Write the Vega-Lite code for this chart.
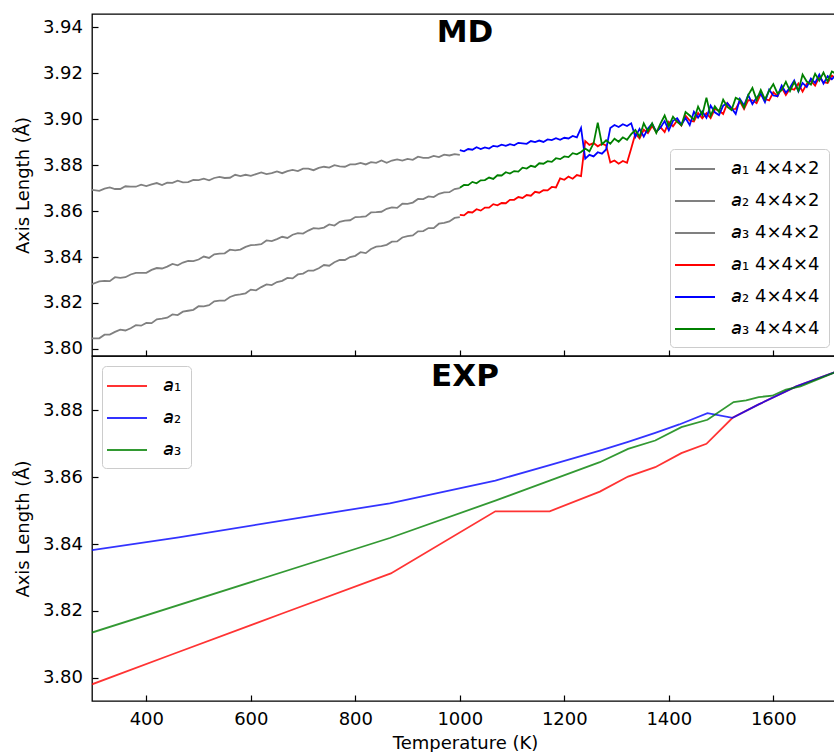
{
"$schema": "https://vega.github.io/schema/vega-lite/v6.json",
"background": "white",
"padding": {"left": 13, "top": 13, "right": 0, "bottom": 0},
"bounds": "flush",
"spacing": 0,
"config": {
  "font": "DejaVu Sans",
  "view": {"stroke": "black", "strokeWidth": 1.3},
  "axis": {"domain": false, "grid": false, "ticks": true, "tickSize": -6, "tickWidth": 1.2, "tickColor": "black", "labelPadding": 15.5, "labelFont": "DejaVu Sans", "labelFontSize": 18, "labelColor": "black", "titleFont": "DejaVu Sans", "titleFontSize": 18, "titleColor": "black", "titleFontWeight": "normal", "titlePadding": 10},
  "axisX": {"titlePadding": 6},
  "legend": {"labelFont": "DejaVu Sans", "labelFontSize": 18, "labelColor": "black", "strokeColor": "#cccccc", "fillColor": "white", "cornerRadius": 4, "padding": 9, "symbolType": "M-2,0H2", "symbolSize": 400, "symbolStrokeWidth": 2, "symbolOffset": 5, "labelOffset": 25, "rowPadding": 12}
},
"datasets": {
"g1": [{"t":296,"v":3.8046},{"t":310,"v":3.8046},{"t":320,"v":3.8062},{"t":330,"v":3.8062},{"t":340,"v":3.8074},{"t":350,"v":3.8084},{"t":360,"v":3.8080},{"t":370,"v":3.8090},{"t":380,"v":3.8103},{"t":390,"v":3.8101},{"t":400,"v":3.8113},{"t":410,"v":3.8112},{"t":420,"v":3.8129},{"t":430,"v":3.8132},{"t":440,"v":3.8136},{"t":450,"v":3.8150},{"t":460,"v":3.8147},{"t":470,"v":3.8162},{"t":480,"v":3.8166},{"t":490,"v":3.8170},{"t":500,"v":3.8186},{"t":510,"v":3.8185},{"t":520,"v":3.8190},{"t":530,"v":3.8207},{"t":540,"v":3.8210},{"t":550,"v":3.8210},{"t":560,"v":3.8226},{"t":570,"v":3.8234},{"t":580,"v":3.8237},{"t":590,"v":3.8242},{"t":600,"v":3.8258},{"t":610,"v":3.8255},{"t":620,"v":3.8269},{"t":630,"v":3.8281},{"t":640,"v":3.8278},{"t":650,"v":3.8291},{"t":660,"v":3.8296},{"t":670,"v":3.8309},{"t":680,"v":3.8307},{"t":690,"v":3.8324},{"t":700,"v":3.8328},{"t":710,"v":3.8341},{"t":720,"v":3.8341},{"t":730,"v":3.8351},{"t":740,"v":3.8365},{"t":750,"v":3.8362},{"t":760,"v":3.8377},{"t":770,"v":3.8387},{"t":780,"v":3.8387},{"t":790,"v":3.8400},{"t":800,"v":3.8405},{"t":810,"v":3.8421},{"t":820,"v":3.8417},{"t":830,"v":3.8435},{"t":840,"v":3.8445},{"t":850,"v":3.8447},{"t":860,"v":3.8453},{"t":870,"v":3.8467},{"t":880,"v":3.8468},{"t":890,"v":3.8485},{"t":900,"v":3.8491},{"t":910,"v":3.8494},{"t":920,"v":3.8512},{"t":930,"v":3.8513},{"t":940,"v":3.8526},{"t":950,"v":3.8526},{"t":960,"v":3.8545},{"t":970,"v":3.8549},{"t":980,"v":3.8555},{"t":990,"v":3.8570},{"t":1000,"v":3.8574}],
"g2": [{"t":296,"v":3.8692},{"t":310,"v":3.8688},{"t":320,"v":3.8698},{"t":330,"v":3.8703},{"t":340,"v":3.8696},{"t":350,"v":3.8696},{"t":360,"v":3.8708},{"t":370,"v":3.8706},{"t":380,"v":3.8706},{"t":390,"v":3.8715},{"t":400,"v":3.8709},{"t":410,"v":3.8716},{"t":420,"v":3.8722},{"t":430,"v":3.8713},{"t":440,"v":3.8724},{"t":450,"v":3.8723},{"t":460,"v":3.8732},{"t":470,"v":3.8725},{"t":480,"v":3.8726},{"t":490,"v":3.8736},{"t":500,"v":3.8735},{"t":510,"v":3.8741},{"t":520,"v":3.8734},{"t":530,"v":3.8744},{"t":540,"v":3.8749},{"t":550,"v":3.8744},{"t":560,"v":3.8745},{"t":570,"v":3.8758},{"t":580,"v":3.8752},{"t":590,"v":3.8758},{"t":600,"v":3.8753},{"t":610,"v":3.8761},{"t":620,"v":3.8768},{"t":630,"v":3.8761},{"t":640,"v":3.8765},{"t":650,"v":3.8773},{"t":660,"v":3.8765},{"t":670,"v":3.8774},{"t":680,"v":3.8779},{"t":690,"v":3.8774},{"t":700,"v":3.8785},{"t":710,"v":3.8785},{"t":720,"v":3.8778},{"t":730,"v":3.8788},{"t":740,"v":3.8793},{"t":750,"v":3.8789},{"t":760,"v":3.8800},{"t":770,"v":3.8795},{"t":780,"v":3.8793},{"t":790,"v":3.8803},{"t":800,"v":3.8803},{"t":810,"v":3.8810},{"t":820,"v":3.8803},{"t":830,"v":3.8813},{"t":840,"v":3.8810},{"t":850,"v":3.8820},{"t":860,"v":3.8810},{"t":870,"v":3.8820},{"t":880,"v":3.8825},{"t":890,"v":3.8820},{"t":900,"v":3.8827},{"t":910,"v":3.8823},{"t":920,"v":3.8837},{"t":930,"v":3.8832},{"t":940,"v":3.8832},{"t":950,"v":3.8840},{"t":960,"v":3.8835},{"t":970,"v":3.8846},{"t":980,"v":3.8842},{"t":990,"v":3.8848},{"t":1000,"v":3.8845}],
"g3": [{"t":296,"v":3.8282},{"t":310,"v":3.8294},{"t":320,"v":3.8296},{"t":330,"v":3.8295},{"t":340,"v":3.8312},{"t":350,"v":3.8309},{"t":360,"v":3.8312},{"t":370,"v":3.8324},{"t":380,"v":3.8331},{"t":390,"v":3.8331},{"t":400,"v":3.8331},{"t":410,"v":3.8344},{"t":420,"v":3.8352},{"t":430,"v":3.8350},{"t":440,"v":3.8358},{"t":450,"v":3.8370},{"t":460,"v":3.8364},{"t":470,"v":3.8376},{"t":480,"v":3.8383},{"t":490,"v":3.8382},{"t":500,"v":3.8389},{"t":510,"v":3.8402},{"t":520,"v":3.8396},{"t":530,"v":3.8412},{"t":540,"v":3.8415},{"t":550,"v":3.8416},{"t":560,"v":3.8432},{"t":570,"v":3.8429},{"t":580,"v":3.8432},{"t":590,"v":3.8444},{"t":600,"v":3.8452},{"t":610,"v":3.8453},{"t":620,"v":3.8456},{"t":630,"v":3.8472},{"t":640,"v":3.8469},{"t":650,"v":3.8478},{"t":660,"v":3.8488},{"t":670,"v":3.8483},{"t":680,"v":3.8497},{"t":690,"v":3.8504},{"t":700,"v":3.8502},{"t":710,"v":3.8515},{"t":720,"v":3.8526},{"t":730,"v":3.8524},{"t":740,"v":3.8528},{"t":750,"v":3.8542},{"t":760,"v":3.8537},{"t":770,"v":3.8553},{"t":780,"v":3.8558},{"t":790,"v":3.8560},{"t":800,"v":3.8574},{"t":810,"v":3.8575},{"t":820,"v":3.8577},{"t":830,"v":3.8594},{"t":840,"v":3.8595},{"t":850,"v":3.8597},{"t":860,"v":3.8610},{"t":870,"v":3.8616},{"t":880,"v":3.8614},{"t":890,"v":3.8632},{"t":900,"v":3.8631},{"t":910,"v":3.8637},{"t":920,"v":3.8653},{"t":930,"v":3.8652},{"t":940,"v":3.8664},{"t":950,"v":3.8661},{"t":960,"v":3.8675},{"t":970,"v":3.8681},{"t":980,"v":3.8682},{"t":990,"v":3.8696},{"t":1000,"v":3.8700}],
"r": [{"t":1000,"v":3.8583},{"t":1008,"v":3.8581},{"t":1016,"v":3.8596},{"t":1024,"v":3.8594},{"t":1032,"v":3.8608},{"t":1040,"v":3.8602},{"t":1048,"v":3.8615},{"t":1056,"v":3.8615},{"t":1064,"v":3.8630},{"t":1072,"v":3.8625},{"t":1080,"v":3.8635},{"t":1088,"v":3.8634},{"t":1096,"v":3.8649},{"t":1104,"v":3.8649},{"t":1112,"v":3.8661},{"t":1120,"v":3.8657},{"t":1128,"v":3.8670},{"t":1136,"v":3.8667},{"t":1144,"v":3.8684},{"t":1152,"v":3.8680},{"t":1160,"v":3.8691},{"t":1168,"v":3.8690},{"t":1176,"v":3.8705},{"t":1184,"v":3.8703},{"t":1192,"v":3.8742},{"t":1200,"v":3.8736},{"t":1208,"v":3.8750},{"t":1216,"v":3.8741},{"t":1224,"v":3.8757},{"t":1232,"v":3.8752},{"t":1240,"v":3.8905},{"t":1248,"v":3.8888},{"t":1256,"v":3.8896},{"t":1264,"v":3.8882},{"t":1272,"v":3.8893},{"t":1280,"v":3.8886},{"t":1288,"v":3.8812},{"t":1296,"v":3.8820},{"t":1304,"v":3.8806},{"t":1312,"v":3.8818},{"t":1320,"v":3.8810},{"t":1328,"v":3.8872},{"t":1336,"v":3.8937},{"t":1344,"v":3.8916},{"t":1352,"v":3.8954},{"t":1360,"v":3.8939},{"t":1368,"v":3.8970},{"t":1376,"v":3.8944},{"t":1384,"v":3.8965},{"t":1392,"v":3.8944},{"t":1400,"v":3.8988},{"t":1408,"v":3.8969},{"t":1416,"v":3.8994},{"t":1424,"v":3.8972},{"t":1432,"v":3.9015},{"t":1440,"v":3.8994},{"t":1448,"v":3.8990},{"t":1456,"v":3.9027},{"t":1464,"v":3.9004},{"t":1472,"v":3.9026},{"t":1480,"v":3.9005},{"t":1488,"v":3.9044},{"t":1496,"v":3.9038},{"t":1504,"v":3.9023},{"t":1512,"v":3.9070},{"t":1520,"v":3.9044},{"t":1528,"v":3.9045},{"t":1536,"v":3.9078},{"t":1544,"v":3.9044},{"t":1552,"v":3.9083},{"t":1560,"v":3.9082},{"t":1568,"v":3.9070},{"t":1576,"v":3.9109},{"t":1584,"v":3.9088},{"t":1592,"v":3.9082},{"t":1600,"v":3.9117},{"t":1608,"v":3.9100},{"t":1616,"v":3.9138},{"t":1624,"v":3.9105},{"t":1632,"v":3.9134},{"t":1640,"v":3.9128},{"t":1648,"v":3.9155},{"t":1656,"v":3.9120},{"t":1664,"v":3.9154},{"t":1672,"v":3.9167},{"t":1680,"v":3.9146},{"t":1688,"v":3.9184},{"t":1696,"v":3.9161},{"t":1704,"v":3.9158},{"t":1712,"v":3.9190},{"t":1720,"v":3.9178}],
"b": [{"t":1000,"v":3.8865},{"t":1008,"v":3.8860},{"t":1016,"v":3.8870},{"t":1024,"v":3.8867},{"t":1032,"v":3.8878},{"t":1040,"v":3.8870},{"t":1048,"v":3.8877},{"t":1056,"v":3.8872},{"t":1064,"v":3.8884},{"t":1072,"v":3.8881},{"t":1080,"v":3.8889},{"t":1088,"v":3.8884},{"t":1096,"v":3.8891},{"t":1104,"v":3.8886},{"t":1112,"v":3.8897},{"t":1120,"v":3.8895},{"t":1128,"v":3.8893},{"t":1136,"v":3.8905},{"t":1144,"v":3.8900},{"t":1152,"v":3.8907},{"t":1160,"v":3.8901},{"t":1168,"v":3.8912},{"t":1176,"v":3.8909},{"t":1184,"v":3.8917},{"t":1192,"v":3.8910},{"t":1200,"v":3.8919},{"t":1208,"v":3.8916},{"t":1216,"v":3.8927},{"t":1224,"v":3.8921},{"t":1232,"v":3.8962},{"t":1240,"v":3.8828},{"t":1248,"v":3.8845},{"t":1256,"v":3.8838},{"t":1264,"v":3.8856},{"t":1272,"v":3.8850},{"t":1280,"v":3.8868},{"t":1288,"v":3.8962},{"t":1296,"v":3.8975},{"t":1304,"v":3.8966},{"t":1312,"v":3.8978},{"t":1320,"v":3.8970},{"t":1328,"v":3.8982},{"t":1336,"v":3.8923},{"t":1344,"v":3.8958},{"t":1352,"v":3.8924},{"t":1360,"v":3.8959},{"t":1368,"v":3.8980},{"t":1376,"v":3.8946},{"t":1384,"v":3.8963},{"t":1392,"v":3.8992},{"t":1400,"v":3.8952},{"t":1408,"v":3.8993},{"t":1416,"v":3.9004},{"t":1424,"v":3.8976},{"t":1432,"v":3.9005},{"t":1440,"v":3.8974},{"t":1448,"v":3.9032},{"t":1456,"v":3.9007},{"t":1464,"v":3.9034},{"t":1472,"v":3.9006},{"t":1480,"v":3.9059},{"t":1488,"v":3.9030},{"t":1496,"v":3.9018},{"t":1504,"v":3.9059},{"t":1512,"v":3.9070},{"t":1520,"v":3.9048},{"t":1528,"v":3.9023},{"t":1536,"v":3.9088},{"t":1544,"v":3.9060},{"t":1552,"v":3.9105},{"t":1560,"v":3.9066},{"t":1568,"v":3.9094},{"t":1576,"v":3.9111},{"t":1584,"v":3.9074},{"t":1592,"v":3.9128},{"t":1600,"v":3.9103},{"t":1608,"v":3.9100},{"t":1616,"v":3.9146},{"t":1624,"v":3.9115},{"t":1632,"v":3.9138},{"t":1640,"v":3.9168},{"t":1648,"v":3.9121},{"t":1656,"v":3.9158},{"t":1664,"v":3.9140},{"t":1672,"v":3.9177},{"t":1680,"v":3.9158},{"t":1688,"v":3.9194},{"t":1696,"v":3.9155},{"t":1704,"v":3.9188},{"t":1712,"v":3.9174},{"t":1720,"v":3.9192}],
"gr": [{"t":1000,"v":3.8702},{"t":1008,"v":3.8714},{"t":1016,"v":3.8713},{"t":1024,"v":3.8727},{"t":1032,"v":3.8721},{"t":1040,"v":3.8734},{"t":1048,"v":3.8735},{"t":1056,"v":3.8746},{"t":1064,"v":3.8740},{"t":1072,"v":3.8756},{"t":1080,"v":3.8755},{"t":1088,"v":3.8769},{"t":1096,"v":3.8763},{"t":1104,"v":3.8774},{"t":1112,"v":3.8772},{"t":1120,"v":3.8789},{"t":1128,"v":3.8785},{"t":1136,"v":3.8797},{"t":1144,"v":3.8792},{"t":1152,"v":3.8808},{"t":1160,"v":3.8806},{"t":1168,"v":3.8817},{"t":1176,"v":3.8814},{"t":1184,"v":3.8830},{"t":1192,"v":3.8826},{"t":1200,"v":3.8838},{"t":1208,"v":3.8835},{"t":1216,"v":3.8852},{"t":1224,"v":3.8847},{"t":1232,"v":3.8857},{"t":1240,"v":3.8872},{"t":1248,"v":3.8860},{"t":1256,"v":3.8895},{"t":1264,"v":3.8985},{"t":1272,"v":3.8890},{"t":1280,"v":3.8908},{"t":1288,"v":3.8893},{"t":1296,"v":3.8915},{"t":1304,"v":3.8902},{"t":1312,"v":3.8921},{"t":1320,"v":3.8910},{"t":1328,"v":3.8935},{"t":1336,"v":3.8953},{"t":1344,"v":3.8924},{"t":1352,"v":3.8982},{"t":1360,"v":3.8947},{"t":1368,"v":3.8982},{"t":1376,"v":3.8940},{"t":1384,"v":3.8981},{"t":1392,"v":3.9016},{"t":1400,"v":3.8970},{"t":1408,"v":3.9011},{"t":1416,"v":3.8988},{"t":1424,"v":3.8974},{"t":1432,"v":3.9031},{"t":1440,"v":3.9016},{"t":1448,"v":3.8998},{"t":1456,"v":3.9055},{"t":1464,"v":3.9018},{"t":1472,"v":3.9094},{"t":1480,"v":3.9015},{"t":1488,"v":3.9056},{"t":1496,"v":3.9032},{"t":1504,"v":3.9085},{"t":1512,"v":3.9054},{"t":1520,"v":3.9040},{"t":1528,"v":3.9093},{"t":1536,"v":3.9084},{"t":1544,"v":3.9050},{"t":1552,"v":3.9105},{"t":1560,"v":3.9136},{"t":1568,"v":3.9084},{"t":1576,"v":3.9127},{"t":1584,"v":3.9086},{"t":1592,"v":3.9124},{"t":1600,"v":3.9153},{"t":1608,"v":3.9112},{"t":1616,"v":3.9126},{"t":1624,"v":3.9163},{"t":1632,"v":3.9122},{"t":1640,"v":3.9162},{"t":1648,"v":3.9123},{"t":1656,"v":3.9194},{"t":1664,"v":3.9164},{"t":1672,"v":3.9151},{"t":1680,"v":3.9198},{"t":1688,"v":3.9168},{"t":1696,"v":3.9203},{"t":1704,"v":3.9164},{"t":1712,"v":3.9208},{"t":1720,"v":3.9198}],
"er": [{"t":296,"v":3.7980},{"t":450,"v":3.8070},{"t":660,"v":3.8192},{"t":868,"v":3.8312},{"t":1068,"v":3.8498},{"t":1172,"v":3.8498},{"t":1268,"v":3.8557},{"t":1322,"v":3.8602},{"t":1374,"v":3.8630},{"t":1424,"v":3.8672},{"t":1472,"v":3.8700},{"t":1522,"v":3.8778},{"t":1572,"v":3.8818},{"t":1644,"v":3.8872},{"t":1724,"v":3.8918}],
"eb": [{"t":296,"v":3.8382},{"t":462,"v":3.8420},{"t":866,"v":3.8522},{"t":1068,"v":3.8590},{"t":1172,"v":3.8636},{"t":1268,"v":3.8680},{"t":1322,"v":3.8706},{"t":1374,"v":3.8733},{"t":1420,"v":3.8758},{"t":1474,"v":3.8792},{"t":1522,"v":3.8778},{"t":1572,"v":3.8818},{"t":1644,"v":3.8872},{"t":1724,"v":3.8918}],
"eg": [{"t":296,"v":3.8135},{"t":866,"v":3.8418},{"t":1068,"v":3.8530},{"t":1172,"v":3.8590},{"t":1268,"v":3.8645},{"t":1322,"v":3.8685},{"t":1374,"v":3.8710},{"t":1424,"v":3.8750},{"t":1474,"v":3.8772},{"t":1524,"v":3.8825},{"t":1548,"v":3.8830},{"t":1572,"v":3.8840},{"t":1598,"v":3.8844},{"t":1624,"v":3.8862},{"t":1652,"v":3.8872},{"t":1724,"v":3.8918}]
},
"vconcat": [
{
  "width": 746, "height": 342,
  "title": {"text": "MD", "fontSize": 31, "fontWeight": "bold", "font": "DejaVu Sans", "color": "black", "anchor": "middle", "frame": "group", "baseline": "alphabetic", "offset": -59},
  "encoding": {
    "x": {"field": "t", "type": "quantitative", "scale": {"domain": [296, 1723.8], "nice": false, "zero": false}, "axis": {"labels": false, "title": null, "values": [400, 600, 800, 1000, 1200, 1400, 1600]}},
    "y": {"field": "v", "type": "quantitative", "scale": {"domain": [3.7969, 3.9458], "nice": false, "zero": false}, "axis": {"title": "Axis Length (Å)", "values": [3.80, 3.82, 3.84, 3.86, 3.88, 3.90, 3.92, 3.94], "format": ".2f"}}
  },
  "layer": [
    {"data": {"name": "g1"}, "mark": {"type": "line", "strokeWidth": 1.8, "clip": true}, "encoding": {"color": {"datum": "𝘢₁ 4×4×2", "scale": {"domain": ["𝘢₁ 4×4×2", "𝘢₂ 4×4×2", "𝘢₃ 4×4×2", "𝘢₁ 4×4×4", "𝘢₂ 4×4×4", "𝘢₃ 4×4×4"], "range": ["#808080", "#808080", "#808080", "#ff0000", "#0000ff", "#008000"]}, "legend": {"title": null, "orient": "bottom-right", "offset": 9}}}},
    {"data": {"name": "g2"}, "mark": {"type": "line", "strokeWidth": 1.8, "clip": true}, "encoding": {"color": {"datum": "𝘢₂ 4×4×2"}}},
    {"data": {"name": "g3"}, "mark": {"type": "line", "strokeWidth": 1.8, "clip": true}, "encoding": {"color": {"datum": "𝘢₃ 4×4×2"}}},
    {"data": {"name": "r"}, "mark": {"type": "line", "strokeWidth": 1.8, "clip": true}, "encoding": {"color": {"datum": "𝘢₁ 4×4×4"}}},
    {"data": {"name": "b"}, "mark": {"type": "line", "strokeWidth": 1.8, "clip": true}, "encoding": {"color": {"datum": "𝘢₂ 4×4×4"}}},
    {"data": {"name": "gr"}, "mark": {"type": "line", "strokeWidth": 1.8, "clip": true}, "encoding": {"color": {"datum": "𝘢₃ 4×4×4"}}}
  ]
},
{
  "width": 746, "height": 345,
  "title": {"text": "EXP", "fontSize": 31, "fontWeight": "bold", "font": "DejaVu Sans", "color": "black", "anchor": "middle", "frame": "group", "baseline": "alphabetic", "offset": -61},
  "encoding": {
    "x": {"field": "t", "type": "quantitative", "scale": {"domain": [296, 1723.8], "nice": false, "zero": false}, "axis": {"title": "Temperature (K)", "values": [400, 600, 800, 1000, 1200, 1400, 1600], "format": "d"}},
    "y": {"field": "v", "type": "quantitative", "scale": {"domain": [3.7930, 3.8963], "nice": false, "zero": false}, "axis": {"title": "Axis Length (Å)", "values": [3.80, 3.82, 3.84, 3.86, 3.88], "format": ".2f"}}
  },
  "layer": [
    {"data": {"name": "er"}, "mark": {"type": "line", "strokeWidth": 1.8, "opacity": 0.8, "clip": true}, "encoding": {"color": {"datum": "𝘢₁", "scale": {"domain": ["𝘢₁", "𝘢₂", "𝘢₃"], "range": ["#ff0000", "#0000ff", "#008000"]}, "legend": {"title": null, "orient": "top-left", "offset": 10}}}},
    {"data": {"name": "eb"}, "mark": {"type": "line", "strokeWidth": 1.8, "opacity": 0.8, "clip": true}, "encoding": {"color": {"datum": "𝘢₂"}}},
    {"data": {"name": "eg"}, "mark": {"type": "line", "strokeWidth": 1.8, "opacity": 0.8, "clip": true}, "encoding": {"color": {"datum": "𝘢₃"}}}
  ]
}
],
"resolve": {"scale": {"color": "independent"}}
}
